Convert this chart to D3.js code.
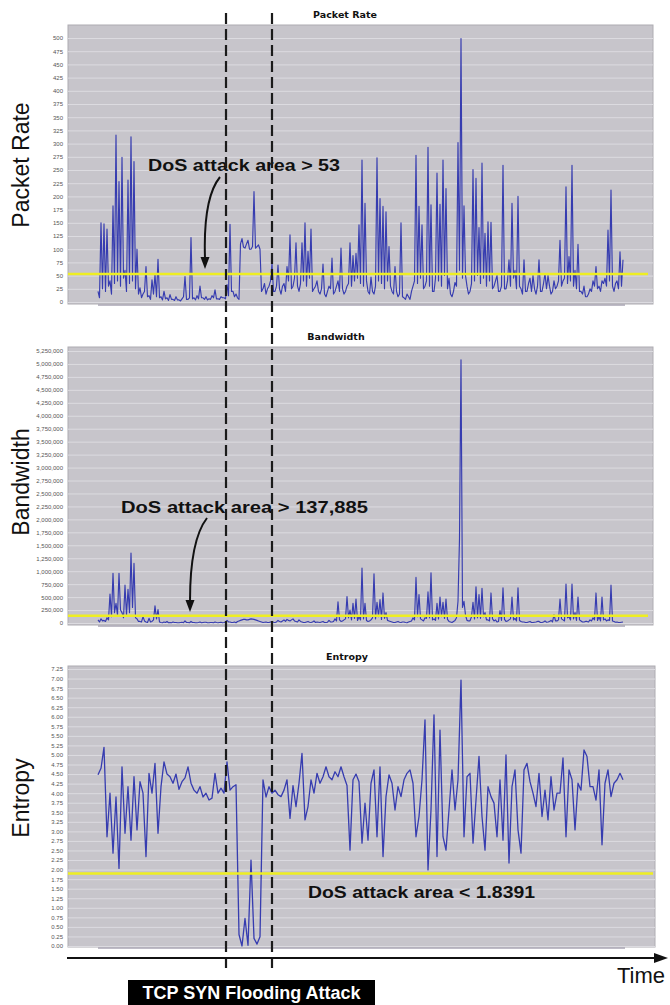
<!DOCTYPE html>
<html><head><meta charset="utf-8">
<script src="https://cdn.jsdelivr.net/npm/d3@7"></script>
<style>body{margin:0;background:#fff}svg{display:block}</style>
</head><body>
<script>
// ---------- DATA (samples alternate peak / floor reading) ----------
const packetRate = [20,8, 150,25, 148,20, 138,30, 40,15, 182,35, 316,40, 228,30, 274,45, 60,20,
 231,35, 313,40, 266,25, 100,15, 27,8, 15,20, 67,10, 12,5, 42,15, 52,10,
 81,8, 10,4, 20,6, 8,3, 14,5, 5,3, 10,4, 4,2, 6,10, 48,5,
 5,8, 122,6, 8,4, 12,6, 30,8, 8,5, 10,4, 6,5, 12,8, 23,6,
 6,5, 10,8, 8,6, 33,12, 147,20, 20,10, 15,8, 5,110, 120,104, 102,110,
 117,100, 100,105, 209,102, 105,108, 100,20, 25,35, 15,25, 30,40, 73,20, 20,30,
 70,25, 15,30, 35,20, 67,40, 127,25, 30,45, 112,30, 20,35, 112,40, 150,30,
 96,45, 138,20, 25,30, 40,20, 15,25, 72,15, 10,20, 30,25, 83,15, 20,30,
 40,20, 102,25, 15,20, 30,35, 112,30, 88,40, 92,45, 146,35, 269,30, 187,40,
 20,15, 47,20, 15,30, 273,40, 196,35, 181,25, 171,40, 105,30, 20,15, 67,20,
 10,15, 150,10, 8,5, 15,10, 5,20, 30,40, 278,35, 181,45, 146,25, 30,40,
 293,30, 184,20, 20,45, 244,40, 185,30, 269,50, 215,25, 45,15, 10,20, 37,30,
 302,60, 499,45, 182,50, 30,15, 20,35, 251,40, 234,50, 141,35, 263,45, 130,30,
 152,40, 151,25, 30,40, 50,20, 20,30, 259,25, 25,40, 80,30, 187,45, 60,25,
 200,30, 25,15, 80,20, 20,35, 45,20, 50,25, 15,30, 80,20, 20,35, 54,25,
 50,30, 15,20, 40,25, 30,40, 117,30, 40,45, 218,35, 86,40, 259,30, 60,25,
 109,20, 20,15, 30,10, 10,15, 25,20, 40,30, 67,25, 30,20, 40,35, 45,30,
 136,40, 212,30, 20,35, 40,25, 95,30, 80];

const bandwidth = [60000,20000, 80000,40000, 50000,30000, 100000,60000, 560000,120000, 960000,200000, 380000,150000, 960000,250000, 200000,100000, 730000,150000,
 650000,200000, 1350000,300000, 1150000,100000, 80000,30000, 30000,20000, 120000,40000, 20000,10000, 90000,20000, 30000,60000, 330000,80000,
 260000,20000, 10000,5000, 20000,10000, 30000,5000, 10000,5000, 20000,10000, 10000,5000, 5000,10000, 15000,5000, 40000,10000,
 10000,5000, 30000,10000, 10000,5000, 5000,10000, 20000,5000, 10000,15000, 15000,5000, 5000,10000, 10000,5000, 20000,10000,
 5000,10000, 15000,5000, 10000,20000, 50000,20000, 20000,10000, 10000,20000, 5000,30000, 40000,50000, 60000,70000, 70000,60000,
 60000,70000, 80000,75000, 70000,60000, 50000,40000, 30000,20000, 10000,15000, 20000,10000, 10000,20000, 30000,15000, 10000,20000,
 50000,30000, 20000,40000, 60000,30000, 70000,50000, 40000,60000, 80000,40000, 30000,20000, 60000,30000, 20000,10000, 10000,20000,
 30000,15000, 10000,20000, 40000,10000, 20000,15000, 10000,20000, 30000,10000, 10000,15000, 50000,20000, 20000,30000, 80000,40000,
 410000,60000, 30000,40000, 60000,80000, 510000,100000, 250000,60000, 380000,90000, 460000,50000, 120000,60000, 1060000,80000, 380000,50000,
 30000,40000, 60000,100000, 950000,80000, 400000,120000, 450000,70000, 580000,90000, 200000,50000, 40000,30000, 20000,10000, 10000,20000,
 30000,15000, 10000,20000, 20000,10000, 5000,20000, 30000,40000, 100000,60000, 880000,120000, 550000,80000, 60000,40000, 100000,90000,
 600000,100000, 970000,60000, 80000,50000, 380000,80000, 500000,120000, 400000,90000, 460000,70000, 30000,20000, 10000,30000, 50000,100000,
 420000,1630000, 5080000,300000, 420000,150000, 50000,40000, 40000,120000, 400000,80000, 700000,100000, 550000,90000, 670000,120000, 200000,60000,
 60000,40000, 580000,80000, 40000,60000, 20000,30000, 240000,50000, 680000,70000, 30000,40000, 60000,80000, 500000,60000, 90000,40000,
 680000,50000, 30000,20000, 20000,10000, 10000,20000, 30000,10000, 10000,15000, 20000,30000, 30000,10000, 10000,20000, 40000,15000,
 20000,30000, 50000,20000, 160000,40000, 40000,60000, 460000,80000, 60000,40000, 750000,100000, 120000,60000, 750000,80000, 200000,50000,
 500000,60000, 40000,20000, 20000,30000, 30000,20000, 60000,40000, 100000,60000, 580000,50000, 120000,40000, 500000,60000, 80000,40000,
 60000,50000, 730000,40000, 30000,15000, 20000,10000, 10000,15000, 20000];

const entropy = [4.48,4.65,5.2,2.86,4.0,2.43,3.9,2.03,4.69,2.95,
 4.17,2.77,4.43,3.04,4.3,4.0,2.34,4.52,4.0,4.78,
 2.95,4.17,4.82,4.5,4.43,4.26,4.5,4.1,4.3,4.4,
 4.69,4.26,4.08,4.0,4.17,3.9,4.0,3.82,3.87,4.52,
 4.0,4.13,4.0,4.82,4.08,4.17,4.22,0.3,0.0,0.72,
 0.02,2.25,0.2,0.05,0.24,4.35,3.9,4.17,4.0,4.08,
 3.96,3.91,4.08,4.35,3.34,4.2,3.65,4.26,5.04,3.3,
 3.65,4.35,4.0,4.52,4.26,4.43,4.69,4.43,4.35,4.56,
 4.43,4.69,4.43,4.2,2.51,4.35,4.5,4.3,2.69,3.74,
 2.77,4.26,4.61,2.86,4.69,2.34,3.91,4.48,4.26,3.56,
 4.17,3.91,4.35,4.52,4.61,4.26,2.86,3.39,4.35,5.92,
 1.99,3.56,6.05,2.34,5.65,2.86,2.51,3.56,4.61,3.56,
 4.35,6.96,2.86,4.43,4.52,2.69,3.82,4.96,3.39,2.51,
 4.17,3.91,3.74,2.86,4.35,2.77,5.0,2.17,4.17,4.61,
 3.04,2.43,4.61,4.78,4.3,4.0,3.65,4.52,3.39,4.08,
 3.3,4.43,3.56,4.0,4.0,4.92,2.86,4.61,4.35,3.04,
 4.26,4.08,5.13,4.96,4.17,4.17,3.82,4.61,2.65,4.26,
 4.61,3.91,4.26,4.35,4.52,4.35];

const chartTitles = ["Packet Rate", "Bandwidth", "Entropy"];
const axisTitles = ["Packet Rate", "Bandwidth", "Entropy"];
const packetRateTicks = d3.range(0, 501, 25);
const bandwidthTicks = d3.range(0, 5250001, 250000);
const entropyTicks = d3.range(0, 7.2501, 0.25);
const thresholdValues = [53, 137885, 1.9];
const thresholdLabels = ["DoS attack area > 53", "DoS attack area > 137,885", "DoS attack area < 1.8391"];
const attackWindow = [42.67, 58.0];   // entropy-sample positions of the two dashed markers
const attackLabel = "TCP SYN Flooding Attack";
const timeLabel = "Time";

// ---------- LAYOUT ----------
const W = 670, H = 1005;
const svg = d3.select("body").append("svg").attr("width", W).attr("height", H);
const xRange = [98, 623];

const panels = [
  {data: packetRate, ticks: packetRateTicks, fmt: d3.format(",d"), top: 500, y0: 302, y1: 38,
   pTop: 25, pBottom: 304, pRight: 653, yellowRight: 648, titleX: 345, titleY: 18, labelY: 165, width: 1.15},
  {data: bandwidth, ticks: bandwidthTicks, fmt: d3.format(",d"), top: 5250000, y0: 623, y1: 351,
   pTop: 347, pBottom: 625, pRight: 653, yellowRight: 648, titleX: 336, titleY: 340, labelY: 482, width: 1.15},
  {data: entropy, ticks: entropyTicks, fmt: d3.format(".2f"), top: 7.25, y0: 946, y1: 669,
   pTop: 666, pBottom: 947, pRight: 655, yellowRight: 653, titleX: 347, titleY: 660, labelY: 798, width: 1.3}
];

const pLeft = 68;
panels.forEach((p, k) => {
  const x = d3.scaleLinear().domain([0, p.data.length - 1]).range(xRange);
  const y = d3.scaleLinear().domain([0, p.top]).range([p.y0, p.y1]);
  const g = svg.append("g");
  g.append("rect").attr("x", pLeft).attr("y", p.pTop).attr("width", p.pRight - pLeft)
    .attr("height", p.pBottom - p.pTop).attr("fill", "#c7c5cb").attr("stroke", "#aeacb2").attr("stroke-width", 1);
  g.append("g").attr("transform", `translate(${pLeft},0)`)
    .call(d3.axisLeft(y).tickValues(p.ticks).tickSize(-(p.pRight - pLeft)).tickFormat(""))
    .call(s => s.select(".domain").remove())
    .call(s => s.selectAll("line").attr("stroke", "#dcdbe0").attr("stroke-width", 1));
  g.append("g").attr("transform", `translate(${pLeft - 4},0)`)
    .call(d3.axisLeft(y).tickValues(p.ticks).tickSize(0).tickPadding(1).tickFormat(p.fmt))
    .call(s => s.select(".domain").remove())
    .call(s => s.selectAll("text").attr("font-size", 6).attr("fill", "#555")
      .attr("font-family", "Liberation Sans, Arial, sans-serif"));
  g.append("line").attr("x1", xRange[0]).attr("x2", 625).attr("y1", p.pBottom + 1).attr("y2", p.pBottom + 1)
    .attr("stroke", "#a9a5b3").attr("stroke-width", 1.5);
  g.append("path").datum(p.data)
    .attr("d", d3.line().x((d, i) => x(i)).y(d => y(d)))
    .attr("fill", "none").attr("stroke", "#363cb0").attr("stroke-width", p.width).attr("stroke-linejoin", "round");
  g.append("line").attr("x1", pLeft).attr("x2", p.yellowRight)
    .attr("y1", y(thresholdValues[k])).attr("y2", y(thresholdValues[k]))
    .attr("stroke", "#eeee22").attr("stroke-width", 2.5);
  g.append("text").attr("x", p.titleX).attr("y", p.titleY).attr("text-anchor", "middle")
    .attr("font-family", "DejaVu Sans, Verdana, sans-serif").attr("font-weight", "bold")
    .attr("font-size", 9.5).attr("fill", "#111").text(chartTitles[k]);
  g.append("text").attr("transform", `translate(29,${p.labelY}) rotate(-90)`).attr("text-anchor", "middle")
    .attr("font-family", "Liberation Sans, Arial, sans-serif").attr("font-size", 23).attr("fill", "#111")
    .text(axisTitles[k]);
});

const ann = [
  {x: 148, y: 171, len: 192, text: thresholdLabels[0]},
  {x: 121, y: 513, len: 247, text: thresholdLabels[1]},
  {x: 308, y: 898, len: 227, text: thresholdLabels[2]}
];
ann.forEach(a => {
  svg.append("text").attr("x", a.x).attr("y", a.y).attr("textLength", a.len).attr("lengthAdjust", "spacingAndGlyphs")
    .attr("font-family", "Liberation Sans, Arial, sans-serif").attr("font-weight", "bold")
    .attr("font-size", 17).attr("fill", "#111").text(a.text);
});

const arrows = [
  {d: "M220,177 Q203,198 205,258", tip: [205, 269]},
  {d: "M207,518 Q190,540 190,601", tip: [190, 612]}
];
arrows.forEach(a => {
  svg.append("path").attr("d", a.d).attr("fill", "none").attr("stroke", "#111").attr("stroke-width", 2);
  const [tx, ty] = a.tip;
  svg.append("path").attr("d", `M${tx},${ty} L${tx - 4.5},${ty - 12} L${tx + 4.5},${ty - 12} Z`).attr("fill", "#111");
});

const xE = d3.scaleLinear().domain([0, entropy.length - 1]).range(xRange);
attackWindow.forEach(v => {
  svg.append("line").attr("x1", xE(v)).attr("x2", xE(v)).attr("y1", 13).attr("y2", 968)
    .attr("stroke", "#1b1b1b").attr("stroke-width", 2.2).attr("stroke-dasharray", "11,5");
});

svg.append("line").attr("x1", 67).attr("x2", 657).attr("y1", 958).attr("y2", 958)
  .attr("stroke", "#111").attr("stroke-width", 2);
svg.append("path").attr("d", "M668,958 L654,953 L654,963 Z").attr("fill", "#111");
svg.append("text").attr("x", 617).attr("y", 983).attr("font-family", "Liberation Sans, Arial, sans-serif")
  .attr("font-size", 22).attr("fill", "#111").text(timeLabel);

svg.append("rect").attr("x", 128).attr("y", 980).attr("width", 247).attr("height", 25).attr("fill", "#000");
svg.append("text").attr("x", 251.5).attr("y", 999).attr("text-anchor", "middle")
  .attr("font-family", "Liberation Sans, Arial, sans-serif").attr("font-weight", "bold")
  .attr("font-size", 18).attr("fill", "#fff").text(attackLabel);
</script>
</body></html>
